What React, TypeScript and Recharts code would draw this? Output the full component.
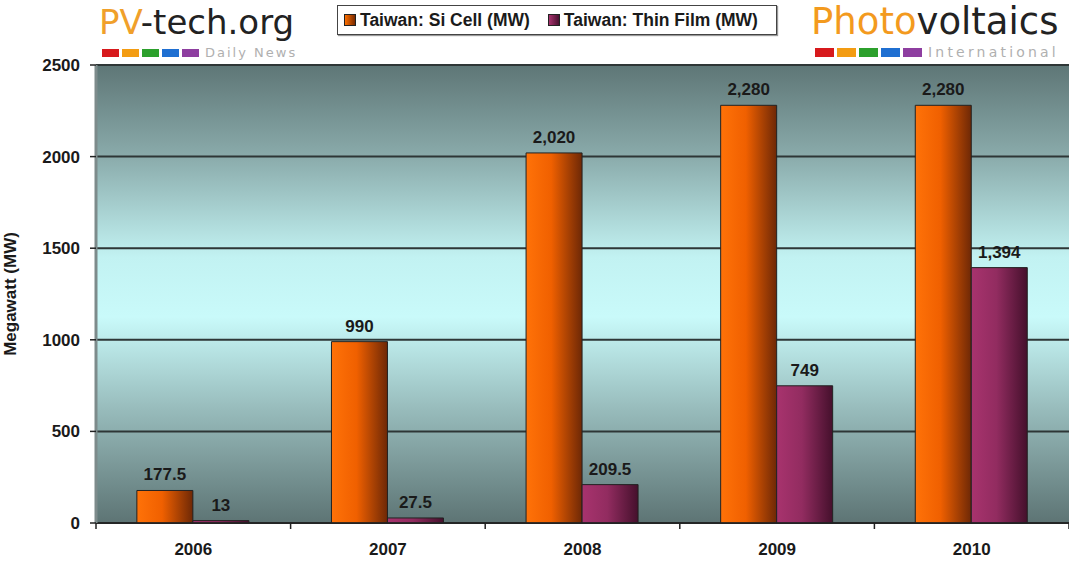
import {
  Bar,
  BarChart,
  CartesianGrid,
  LabelList,
  XAxis,
  YAxis,
} from "recharts";

const years = ["2006", "2007", "2008", "2009", "2010"];
const siCell = [177.5, 990, 2020, 2280, 2280];
const thinFilm = [13, 27.5, 209.5, 749, 1394];
const yTicks = [0, 500, 1000, 1500, 2000, 2500];
const logoSquares = ["#d7191c", "#f39c12", "#2ca02c", "#1f6fd1", "#8e3ea0"];

const data = years.map((year, i) => ({ year, si: siCell[i], thin: thinFilm[i] }));

const FONT = '"Liberation Sans", Arial, sans-serif';

const fmt = (v: any) => Number(v).toLocaleString("en-US");

function YearTick(props: any) {
  const { x, y, payload, index, width } = props;
  const band = width ? width / years.length : 194.6;
  return (
    <g>
      {index === 0 && <line x1={x - band / 2} x2={x - band / 2} y1={y} y2={y + 6} stroke="#222" strokeWidth={1.5} />}
      <line x1={x + band / 2} x2={x + band / 2} y1={y} y2={y + 6} stroke="#222" strokeWidth={1.5} />
      <text x={x} y={y + 32} textAnchor="middle" fontFamily={FONT} fontWeight="bold" fontSize={17} fill="#1a1a1a">
        {payload.value}
      </text>
    </g>
  );
}

function LegendBox() {
  const item = (label: string, grad: string) => (
    <span style={{ display: "inline-flex", alignItems: "center", marginRight: 18 }}>
      <span
        style={{
          width: 10,
          height: 10,
          border: "1px solid #222",
          background: grad,
          marginRight: 4,
          display: "inline-block",
        }}
      />
      {label}
    </span>
  );
  return (
    <div
      style={{
        position: "absolute",
        left: 337,
        top: 5,
        width: 440,
        height: 30,
        border: "1px solid #444",
        boxShadow: "1px 1px 1px #999",
        background: "#fff",
        display: "flex",
        alignItems: "center",
        paddingLeft: 6,
        fontFamily: FONT,
        fontWeight: "bold",
        fontSize: 17.5,
        color: "#1a1a1a",
        whiteSpace: "nowrap",
        boxSizing: "border-box",
      }}
    >
      {item("Taiwan: Si Cell (MW)", "linear-gradient(90deg,#ff7000,#7a2a00)")}
      {item("Taiwan: Thin Film (MW)", "linear-gradient(90deg,#a8336e,#4a1030)")}
    </div>
  );
}

function Squares({ w, h, gap }: { w: number; h: number; gap: number }) {
  return (
    <span style={{ display: "inline-flex", gap }}>
      {logoSquares.map((c) => (
        <span key={c} style={{ width: w, height: h, background: c, display: "inline-block" }} />
      ))}
    </span>
  );
}

export default function App() {
  return (
    <div style={{ position: "absolute", left: 0, top: 0, width: 1069, height: 565, background: "#fff" }}>
      <div style={{ position: "absolute", left: 99, top: 2, fontFamily: '"DejaVu Sans", sans-serif', fontSize: 34, lineHeight: "40px", color: "#222" }}>
        <span style={{ color: "#f0a02a" }}>PV</span>-tech.org
      </div>
      <div style={{ position: "absolute", left: 102, top: 48, display: "flex", alignItems: "center" }}>
        <Squares w={17} h={8} gap={3} />
        <span style={{ marginLeft: 6, fontFamily: '"DejaVu Sans", sans-serif', fontSize: 13, letterSpacing: 2, color: "#b0b0b0", lineHeight: "10px" }}>
          Daily News
        </span>
      </div>
      <div style={{ position: "absolute", left: 811, top: 1, fontFamily: '"DejaVu Sans", sans-serif', fontSize: 37, lineHeight: "42px", color: "#222" }}>
        <span style={{ color: "#f39a1e" }}>Photo</span>voltaics
      </div>
      <div style={{ position: "absolute", left: 815, top: 47, display: "flex", alignItems: "center" }}>
        <Squares w={19} h={9} gap={3} />
        <span style={{ marginLeft: 6, fontFamily: '"DejaVu Sans", sans-serif', fontSize: 14, letterSpacing: 3.2, color: "#b0b0b0", lineHeight: "10px" }}>
          International
        </span>
      </div>
      <BarChart
        width={1069}
        height={565}
        data={data}
        margin={{ top: 65, right: 0, bottom: 0, left: 0 }}
        barCategoryGap="21%"
        barGap={0}
        style={{ position: "absolute", left: 0, top: 0 }}
      >
        <defs>
          <linearGradient id="bg" x1="0" y1="0" x2="0" y2="1">
            <stop offset="0%" stopColor="#5e7676" />
            <stop offset="20%" stopColor="#8aabab" />
            <stop offset="42%" stopColor="#c2f2f2" />
            <stop offset="55%" stopColor="#c9fafa" />
            <stop offset="75%" stopColor="#98bcbc" />
            <stop offset="100%" stopColor="#5d7474" />
          </linearGradient>
          <linearGradient id="orangeGrad" x1="0" y1="0" x2="1" y2="0">
            <stop offset="0%" stopColor="#ff7208" />
            <stop offset="45%" stopColor="#f06000" />
            <stop offset="100%" stopColor="#6e2806" />
          </linearGradient>
          <linearGradient id="purpleGrad" x1="0" y1="0" x2="1" y2="0">
            <stop offset="0%" stopColor="#a8336e" />
            <stop offset="45%" stopColor="#922c60" />
            <stop offset="100%" stopColor="#45102c" />
          </linearGradient>
        </defs>
        <CartesianGrid vertical={false} fill="url(#bg)" fillOpacity={1} stroke="#2e3636" strokeWidth={2} />
        <XAxis
          dataKey="year"
          height={42}
          axisLine={{ stroke: "#222", strokeWidth: 1.5 }}
          tickLine={false}
          tickSize={0}
          tickMargin={0}
          tick={<YearTick />}
          interval={0}
        />
        <YAxis
          width={96}
          domain={[0, 2500]}
          ticks={yTicks}
          interval={0}
          axisLine={{ stroke: "#7d8b8b", strokeWidth: 3 }}
          tickLine={{ stroke: "#222", strokeWidth: 1.5 }}
          tickSize={6}
          tickMargin={10}
          tick={{ fontFamily: FONT, fontWeight: "bold", fontSize: 17, fill: "#1a1a1a" }}
          label={{
            value: "Megawatt (MW)",
            angle: -90,
            position: "insideLeft",
            offset: 10,
            style: { textAnchor: "middle", fontFamily: FONT, fontWeight: "bold", fontSize: 17, fill: "#1a1a1a" },
          }}
        />
        <Bar dataKey="si" name="Taiwan: Si Cell (MW)" fill="url(#orangeGrad)" stroke="#222" strokeWidth={1} isAnimationActive={false}>
          <LabelList dataKey="si" position="top" offset={10} formatter={fmt} style={{ fontFamily: FONT, fontWeight: "bold", fontSize: 17, fill: "#1a1a1a" }} />
        </Bar>
        <Bar dataKey="thin" name="Taiwan: Thin Film (MW)" fill="url(#purpleGrad)" stroke="#222" strokeWidth={1} isAnimationActive={false}>
          <LabelList dataKey="thin" position="top" offset={10} formatter={fmt} style={{ fontFamily: FONT, fontWeight: "bold", fontSize: 17, fill: "#1a1a1a" }} />
        </Bar>
      </BarChart>
      <LegendBox />
    </div>
  );
}
